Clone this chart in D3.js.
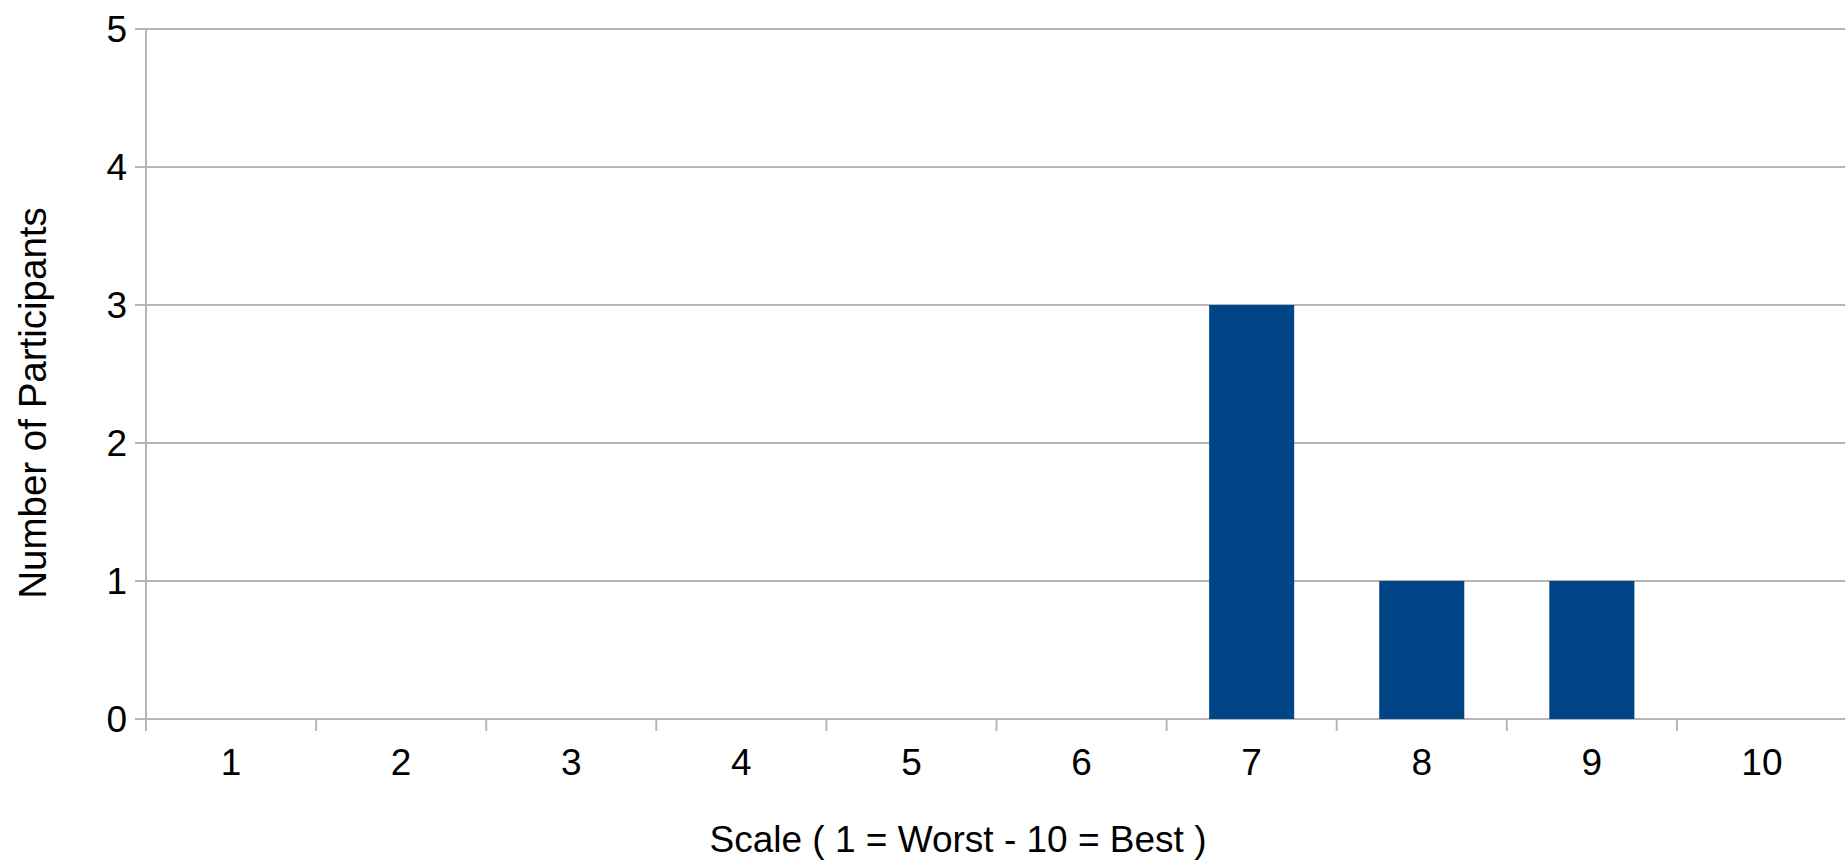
<!DOCTYPE html>
<html>
<head>
<meta charset="utf-8">
<script src="https://cdn.jsdelivr.net/npm/d3@7"></script>
<style>
  html, body { margin: 0; padding: 0; background: #fff; }
  svg { display: block; }
  text { font-family: "Liberation Sans", Arial, sans-serif; fill: #000; }
</style>
</head>
<body>
<div id="chart"></div>
<script>
const categories = ["1", "2", "3", "4", "5", "6", "7", "8", "9", "10"];
const values = [0, 0, 0, 0, 0, 0, 3, 1, 1, 0];
const yTicks = [0, 1, 2, 3, 4, 5];
const xTitle = "Scale ( 1 = Worst - 10 = Best )";
const yTitle = "Number of Participants";

(function () {
const W = 1845, H = 862;
const mLeft = 146, mRight = 1847, mTop = 29, mBottom = 719;
const gridColor = "#b6b6b6";
const barColor = "#004586";

const svg = d3.select("#chart").append("svg").attr("width", W).attr("height", H);

const x = d3.scaleBand().domain(categories).range([mLeft, mRight]).paddingInner(0).paddingOuter(0);
const y = d3.scaleLinear().domain([0, 5]).range([mBottom, mTop]);

// gridlines
svg.append("g").selectAll("line").data(yTicks).join("line")
  .attr("x1", mLeft - 11).attr("x2", W)
  .attr("y1", d => y(d)).attr("y2", d => y(d))
  .attr("stroke", gridColor).attr("stroke-width", 2);

// y axis line
svg.append("line").attr("x1", mLeft).attr("x2", mLeft).attr("y1", mTop).attr("y2", mBottom + 12)
  .attr("stroke", gridColor).attr("stroke-width", 2);

// x ticks at band boundaries
const boundaries = categories.map(c => x(c));
svg.append("g").selectAll("line").data(boundaries).join("line")
  .attr("x1", d => d).attr("x2", d => d)
  .attr("y1", mBottom).attr("y2", mBottom + 12)
  .attr("stroke", gridColor).attr("stroke-width", 2);

// bars
const bw = x.bandwidth() * 0.5;
svg.append("g").selectAll("rect").data(categories.map((c, i) => ({c, v: values[i]})).filter(d => d.v > 0)).join("rect")
  .attr("x", d => x(d.c) + (x.bandwidth() - bw) / 2)
  .attr("width", bw)
  .attr("y", d => y(d.v))
  .attr("height", d => y(0) - y(d.v))
  .attr("fill", barColor);

// y tick labels
svg.append("g").selectAll("text").data(yTicks).join("text")
  .attr("x", 127).attr("y", d => y(d))
  .attr("dy", "0.36em")
  .attr("text-anchor", "end")
  .style("font-size", "37px")
  .text(d => d);

// x tick labels
svg.append("g").selectAll("text").data(categories).join("text")
  .attr("x", d => x(d) + x.bandwidth() / 2).attr("y", 775)
  .attr("text-anchor", "middle")
  .style("font-size", "37px")
  .text(d => d);

// axis titles
svg.append("text").attr("x", 958).attr("y", 852)
  .attr("text-anchor", "middle").style("font-size", "37px").text(xTitle);

svg.append("text").attr("transform", "translate(46,403) rotate(-90)")
  .attr("text-anchor", "middle").style("font-size", "38.5px").text(yTitle);
})();
</script>
</body>
</html>
